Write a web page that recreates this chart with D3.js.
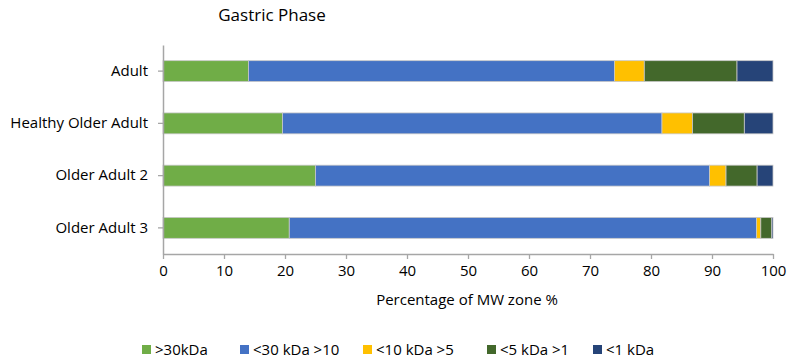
<!DOCTYPE html>
<html>
<head>
<meta charset="utf-8">
<script src="https://cdn.jsdelivr.net/npm/d3@7"></script>
<style>
body{margin:0;background:#fff;}
svg{font-family:"Open Sans",sans-serif;}
</style>
</head>
<body>
<svg id="svg1" width="787" height="361"></svg>
<script>
// data
const groups = ["Adult", "Healthy Older Adult", "Older Adult 2", "Older Adult 3"];
const zones = [">30kDa", "<30 kDa >10", "<10 kDa >5", "<5 kDa >1", "<1 kDa"];
const zoneColors = ["#70AD47", "#4472C4", "#FFC000", "#43682B", "#264478"];
const over30 = [14.0, 19.6, 25.0, 20.7];
const from10to30 = [60.0, 62.2, 64.6, 76.6];
const from5to10 = [4.9, 5.0, 2.7, 0.7];
const from1to5 = [15.2, 8.5, 5.1, 1.8];
const under1 = [5.9, 4.7, 2.6, 0.2];
const xTicks = [0, 10, 20, 30, 40, 50, 60, 70, 80, 90, 100];

const svg = d3.select('#svg1');
const margin = {top: 45, left: 163, right: 14, bottom: 107};
const width = 787, height = 361;
const innerWidth = width - margin.left - margin.right;
const innerHeight = height - margin.top - margin.bottom;

const rows = groups.map((g, i) => ({
  group: g,
  vals: [over30[i], from10to30[i], from5to10[i], from1to5[i], under1[i]]
}));

const x = d3.scaleLinear().domain([0, 100]).range([0, innerWidth]);
const y = d3.scaleBand().domain(groups).range([0, innerHeight]).paddingInner(0.6).paddingOuter(0.3);
const color = d3.scaleOrdinal().domain(zones).range(zoneColors);

const g = svg.append('g').attr('transform', `translate(${margin.left},${margin.top})`);

// stacked bars
rows.forEach(r => {
  let acc = 0;
  r.vals.forEach((v, k) => {
    g.append('rect')
      .attr('x', x(acc))
      .attr('y', y(r.group))
      .attr('width', x(acc + v) - x(acc))
      .attr('height', y.bandwidth())
      .attr('fill', color(zones[k]))
      .attr('stroke', '#c8c8c8')
      .attr('stroke-width', 0.8);
    acc += v;
  });
});

// x axis
const xAxis = g.append('g')
  .attr('transform', `translate(0,${innerHeight})`)
  .call(d3.axisBottom(x).tickValues(xTicks).tickSize(5).tickPadding(6).tickSizeOuter(0));
xAxis.select('.domain').attr('stroke', '#a6a6a6').attr('stroke-width', 1.5);
xAxis.selectAll('.tick line').attr('stroke', '#a6a6a6').attr('stroke-width', 1.3);
xAxis.selectAll('.tick text').attr('font-size', 15).attr('fill', '#000').attr('font-family', '"Open Sans",sans-serif');

// y axis
const yAxis = g.append('g')
  .call(d3.axisLeft(y).tickSize(5).tickPadding(10).tickSizeOuter(0));
yAxis.select('.domain').attr('stroke', '#a6a6a6').attr('stroke-width', 1.5);
yAxis.selectAll('.tick line').attr('stroke', '#a6a6a6').attr('stroke-width', 1.3);
yAxis.selectAll('.tick text').attr('font-size', 15).attr('fill', '#000').attr('font-family', '"Open Sans",sans-serif');

// title
svg.append('text')
  .attr('x', 272).attr('y', 21)
  .attr('text-anchor', 'middle')
  .style('font-size', '17px')
  .text('Gastric Phase');

// axis title
svg.append('text')
  .attr('x', 467).attr('y', 305)
  .attr('text-anchor', 'middle')
  .style('font-size', '15px')
  .text('Percentage of MW zone %');

// legend
const legendX = [142, 240, 363, 487, 593];
zones.forEach((z, k) => {
  svg.append('rect')
    .attr('x', legendX[k]).attr('y', 345)
    .attr('width', 9).attr('height', 9)
    .attr('fill', color(z));
  svg.append('text')
    .attr('x', legendX[k] + 13).attr('y', 355)
    .style('font-size', '15px')
    .text(z);
});
</script>
</body>
</html>
